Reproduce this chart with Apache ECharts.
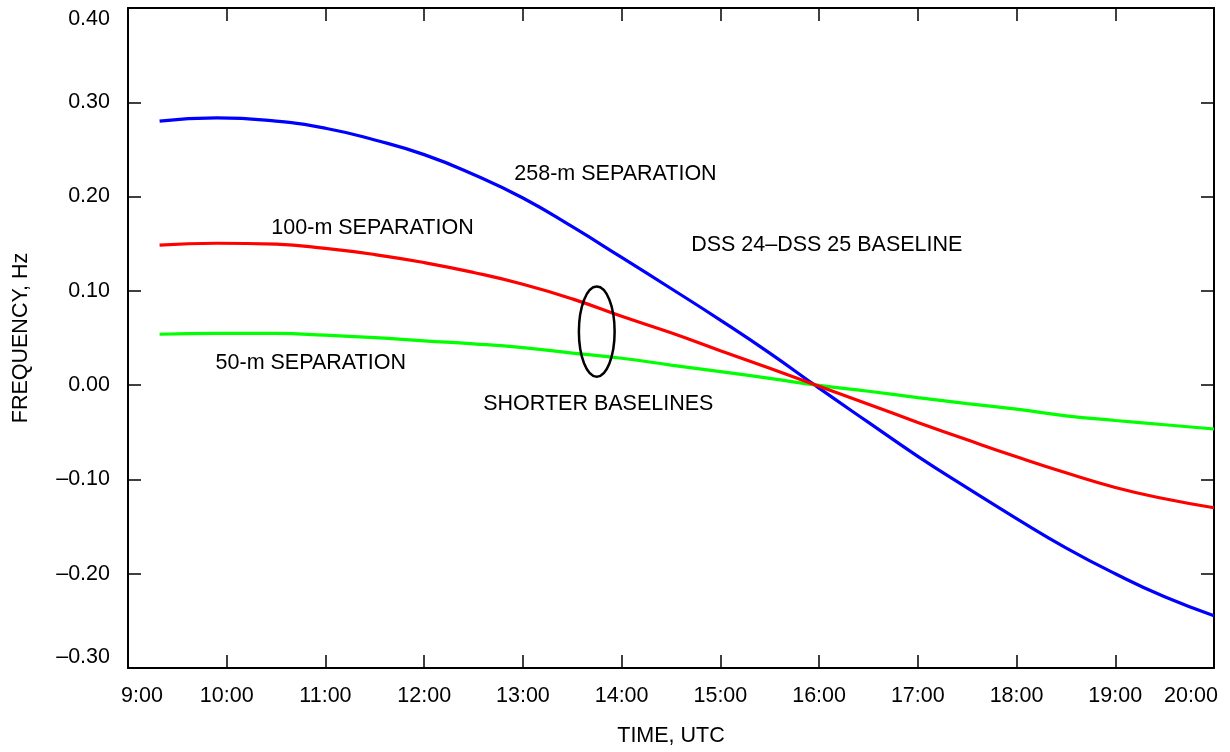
<!DOCTYPE html>
<html>
<head>
<meta charset="utf-8">
<script src="https://cdn.jsdelivr.net/npm/echarts@6/dist/echarts.min.js"></script>
<style>
html,body{margin:0;padding:0;background:#fff;}
#c{width:1230px;height:752px;}
</style>
</head>
<body>
<div id="c"></div>
<script>
// ---- data (time in hours UTC, frequency in Hz) ----
const times   = [9.32, 9.9, 10.5, 11, 11.5, 12, 12.5, 13, 13.5, 14, 14.5, 15, 15.5, 16, 16.5, 17, 17.5, 18, 18.5, 19, 19.5, 20.0];
const sep258  = [0.280, 0.2835, 0.280, 0.2725, 0.260, 0.2445, 0.2235, 0.1985, 0.168, 0.1355, 0.1025, 0.0690, 0.0340, -0.0032, -0.0395, -0.0755, -0.109, -0.1415, -0.1725, -0.200, -0.2245, -0.2445];
const sep100  = [0.1485, 0.1505, 0.1495, 0.145, 0.1385, 0.130, 0.1195, 0.107, 0.0915, 0.0730, 0.0555, 0.0365, 0.0178, -0.0013, -0.0203, -0.0395, -0.058, -0.076, -0.093, -0.1085, -0.1205, -0.130];
const sep50   = [0.054, 0.055, 0.0548, 0.053, 0.0505, 0.047, 0.0438, 0.0397, 0.034, 0.0285, 0.0213, 0.0144, 0.0072, -0.0003, -0.0065, -0.0132, -0.0196, -0.0254, -0.0325, -0.0375, -0.042, -0.0465];

const xTickValues = [9, 10, 11, 12, 13, 14, 15, 16, 17, 18, 19, 20];
const xTickLabels = ['9:00', '10:00', '11:00', '12:00', '13:00', '14:00', '15:00', '16:00', '17:00', '18:00', '19:00', '20:00'];
const yTickValues = [-0.3, -0.2, -0.1, 0, 0.1, 0.2, 0.3, 0.4];
const yTickLabels = ['\u20130.30', '\u20130.20', '\u20130.10', '0.00', '0.10', '0.20', '0.30', '0.40'];

// annotation texts: [time, value, text]
const annTimes  = [12.913, 10.452, 14.704, 9.887, 12.598];
const annValues = [0.2237, 0.1668, 0.1489, 0.0235, -0.0197];
const annTexts  = ['258-m SEPARATION', '100-m SEPARATION', 'DSS 24\u2013DSS 25 BASELINE', '50-m SEPARATION', 'SHORTER BASELINES'];

// ellipse marking the shorter baselines: [centre time, centre value, half-width (h), half-height (Hz)]
const ellipseData = [[13.748, 0.0568, 0.181, 0.0478]];

const FONT = '"Liberation Sans", Arial, Helvetica, sans-serif';
const FS = 21.5;

function lookup(vals, labels, v) {
  for (let i = 0; i < vals.length; i++) if (Math.abs(vals[i] - v) < 1e-6) return labels[i];
  return '';
}

const chart = echarts.init(document.getElementById('c'), null, {renderer: 'canvas'});

const axisLine = {show: true, onZero: false, lineStyle: {color: '#000', width: 2}};
const tick = {show: true, inside: true, length: 13, lineStyle: {color: '#000', width: 1.5}};

const option = {
  backgroundColor: '#fff',
  animation: false,
  grid: {left: 128, right: 16, top: 8, bottom: 81, containLabel: false},
  xAxis: [{
    type: 'value', min: 9, max: 20, interval: 1, position: 'bottom',
    axisLine: axisLine, axisTick: tick, splitLine: {show: false},
    axisLabel: {
      margin: 17, color: '#000', fontSize: FS, fontFamily: FONT,
      formatter: function (v) {
        const s = lookup(xTickValues, xTickLabels, v);
        if (Math.abs(v - 9) < 1e-6) return '{first|' + s + '}';
        if (Math.abs(v - 20) < 1e-6) return '{last|' + s + '}';
        return s;
      },
      rich: {
        first: {padding: [0, 0, 0, 28], fontSize: FS, fontFamily: FONT, color: '#000'},
        last: {padding: [0, 46, 0, 0], fontSize: FS, fontFamily: FONT, color: '#000'}
      }
    },
    name: 'TIME, UTC', nameLocation: 'middle', nameGap: 57,
    nameTextStyle: {color: '#000', fontSize: FS, fontFamily: FONT}
  }, {
    type: 'value', min: 9, max: 20, interval: 1, position: 'top',
    axisLine: axisLine, axisTick: tick, splitLine: {show: false},
    axisLabel: {show: false}
  }],
  yAxis: [{
    type: 'value', min: -0.3, max: 0.4, interval: 0.1, position: 'left',
    axisLine: axisLine, axisTick: tick, splitLine: {show: false},
    axisLabel: {
      margin: 18, color: '#000', fontSize: FS, fontFamily: FONT,
      verticalAlignMinLabel: 'bottom', verticalAlignMaxLabel: 'top',
      formatter: function (v) { return lookup(yTickValues, yTickLabels, v); }
    },
    name: 'FREQUENCY, Hz', nameLocation: 'middle', nameGap: 96, nameRotate: 90,
    nameTextStyle: {color: '#000', fontSize: FS, fontFamily: FONT}
  }, {
    type: 'value', min: -0.3, max: 0.4, interval: 0.1, position: 'right',
    axisLine: axisLine, axisTick: tick, splitLine: {show: false},
    axisLabel: {show: false}
  }],
  series: [
    {
      name: '258-m', type: 'line', smooth: true, showSymbol: false, symbol: 'none',
      data: times.map((t, i) => [t, sep258[i]]),
      lineStyle: {color: '#0000ff', width: 3.2}, z: 3
    },
    {
      name: '50-m', type: 'line', smooth: true, showSymbol: false, symbol: 'none',
      data: times.map((t, i) => [t, sep50[i]]),
      lineStyle: {color: '#00ff00', width: 3.2}, z: 3
    },
    {
      name: '100-m', type: 'line', smooth: true, showSymbol: false, symbol: 'none',
      data: times.map((t, i) => [t, sep100[i]]),
      lineStyle: {color: '#ff0000', width: 3.2}, z: 3
    },
    {
      name: 'ellipse', type: 'custom', z: 4,
      data: ellipseData,
      renderItem: function (params, api) {
        const c = api.coord([api.value(0), api.value(1)]);
        const s = api.size([api.value(2), api.value(3)]);
        return {
          type: 'ellipse',
          shape: {cx: c[0], cy: c[1], rx: s[0], ry: s[1]},
          style: {fill: 'none', stroke: '#000', lineWidth: 2.5}
        };
      }
    },
    {
      name: 'annotations', type: 'custom', z: 5,
      data: annTimes.map((t, i) => [t, annValues[i]]),
      renderItem: function (params, api) {
        const p = api.coord([api.value(0), api.value(1)]);
        return {
          type: 'text',
          x: p[0], y: p[1],
          style: {
            text: annTexts[params.dataIndex],
            fill: '#000', fontSize: FS, fontFamily: FONT,
            align: 'left', verticalAlign: 'middle'
          }
        };
      }
    }
  ]
};

chart.setOption(option);
</script>
</body>
</html>
